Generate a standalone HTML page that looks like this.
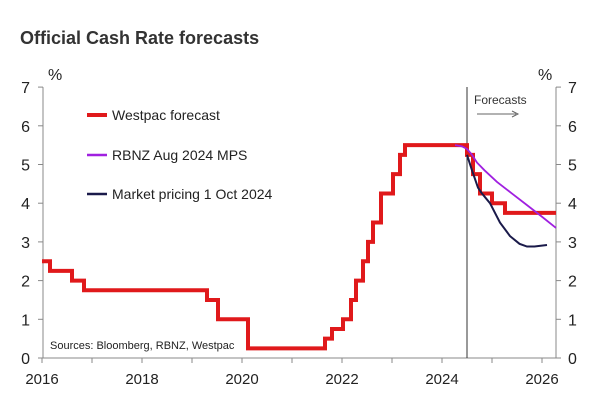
<!DOCTYPE html>
<html><head><meta charset="utf-8"><style>
body{margin:0;background:#fff;}
svg text{font-family:"Liberation Sans",Arial,sans-serif;}
</style></head><body>
<svg width="600" height="408" xmlns="http://www.w3.org/2000/svg">
<text x="20" y="44" font-size="18" font-weight="bold" fill="#333">Official Cash Rate forecasts</text>
<g id="axes"></g>
<g id="marks"></g>
<line x1="87" y1="115" x2="107" y2="115" stroke="#e0191b" stroke-width="4"/>
<text x="112" y="120" font-size="14" fill="#222">Westpac forecast</text>
<line x1="87" y1="155" x2="107" y2="155" stroke="#a020e0" stroke-width="2.5"/>
<text x="112" y="160" font-size="14" fill="#222">RBNZ Aug 2024 MPS</text>
<line x1="87" y1="194" x2="107" y2="194" stroke="#1a1a4a" stroke-width="2.5"/>
<text x="112" y="199" font-size="14" fill="#222">Market pricing 1 Oct  2024</text>
<text x="50" y="349" font-size="11" fill="#222">Sources: Bloomberg, RBNZ, Westpac</text>
<text x="474" y="104" font-size="12" fill="#333">Forecasts</text>
<line x1="477" y1="114" x2="516" y2="114" stroke="#666" stroke-width="1"/>
<path d="M512,111 L518,114 L512,117" fill="none" stroke="#666" stroke-width="1"/>
</svg>
<script>
const yTicks=[0,1,2,3,4,5,6,7];
const xTicks=[2016,2018,2020,2022,2024,2026];
const westpacDates=[2016.0,2016.16,2016.6,2016.84,2019.3,2019.52,2020.12,2021.66,2021.8,2022.02,2022.18,2022.28,2022.42,2022.52,2022.62,2022.78,2023.02,2023.16,2023.26,2024.5,2024.62,2024.76,2025.0,2025.26,2026.28];
const westpacValues=[2.5,2.25,2.0,1.75,1.5,1.0,0.25,0.5,0.75,1.0,1.5,2.0,2.5,3.0,3.5,4.25,4.75,5.25,5.5,5.25,4.75,4.25,4.0,3.75,3.75];
const rbnzDates=[2024.26,2024.4,2024.5,2024.6,2024.7,2024.85,2025.1,2025.4,2025.7,2026.0,2026.28];
const rbnzValues=[5.5,5.47,5.4,5.25,5.05,4.85,4.55,4.25,3.95,3.65,3.36];
const marketDates=[2024.5,2024.6,2024.72,2024.8,2024.96,2025.16,2025.36,2025.55,2025.7,2025.85,2026.1];
const marketValues=[5.25,4.85,4.4,4.25,4.0,3.5,3.15,2.95,2.88,2.88,2.92];
const NS="http://www.w3.org/2000/svg";
const X=d=>42+(d-2016)*50;
const Y=v=>358-v*38.7;
const ax=document.getElementById('axes'),mk=document.getElementById('marks');
function el(t,a,p){const e=document.createElementNS(NS,t);for(const k in a)e.setAttribute(k,a[k]);p.appendChild(e);return e;}
const la=el('line',{x1:43,y1:Y(7),x2:43,y2:358,stroke:'#888'},ax);


const ra=el('line',{x1:556,y1:Y(7),x2:556,y2:358,stroke:'#888'},ax);


const xa=el('line',{x1:43,y1:358,x2:556,y2:358,stroke:'#888'},ax);


yTicks.forEach(v=>{
 el('line',{x1:38,y1:Y(v),x2:43,y2:Y(v),stroke:'#888'},ax);
 el('line',{x1:556,y1:Y(v),x2:561,y2:Y(v),stroke:'#888'},ax);
 const t=el('text',{x:30,y:Y(v)+6,'font-size':16,fill:'#222','text-anchor':'end'},ax);t.textContent=v;
 
 
 const t2=el('text',{x:568,y:Y(v)+6,'font-size':16,fill:'#222'},ax);t2.textContent=v;
 
 
});
for(let yr=2016;yr<=2026;yr++){el('line',{x1:X(yr),y1:358,x2:X(yr),y2:363,stroke:'#888'},ax);}
xTicks.forEach(d=>{const t=el('text',{x:X(d),y:384,'font-size':15,fill:'#222','text-anchor':'middle'},ax);t.textContent=d;
 
 });
let p1=el('text',{x:48,y:80,'font-size':16,fill:'#222'},ax);p1.textContent='%';
let p2=el('text',{x:538,y:80,'font-size':16,fill:'#222'},ax);p2.textContent='%';
const vl=el('line',{x1:X(2024.5),y1:87,x2:X(2024.5),y2:358,stroke:'#333','stroke-width':1},mk);


let d='';
westpacDates.forEach((t,i)=>{if(i===0)d+=`M${X(t)},${Y(westpacValues[i])}`;else d+=`H${X(t)}V${Y(westpacValues[i])}`;});
const w=el('path',{d:d,fill:'none',stroke:'#e0191b','stroke-width':4},mk);


const r=el('polyline',{points:rbnzDates.map((t,i)=>X(t)+','+Y(rbnzValues[i])).join(' '),fill:'none',stroke:'#a020e0','stroke-width':1.8},mk);


const m=el('polyline',{points:marketDates.map((t,i)=>X(t)+','+Y(marketValues[i])).join(' '),fill:'none',stroke:'#1a1a4a','stroke-width':2},mk);


</script>
</body></html>
